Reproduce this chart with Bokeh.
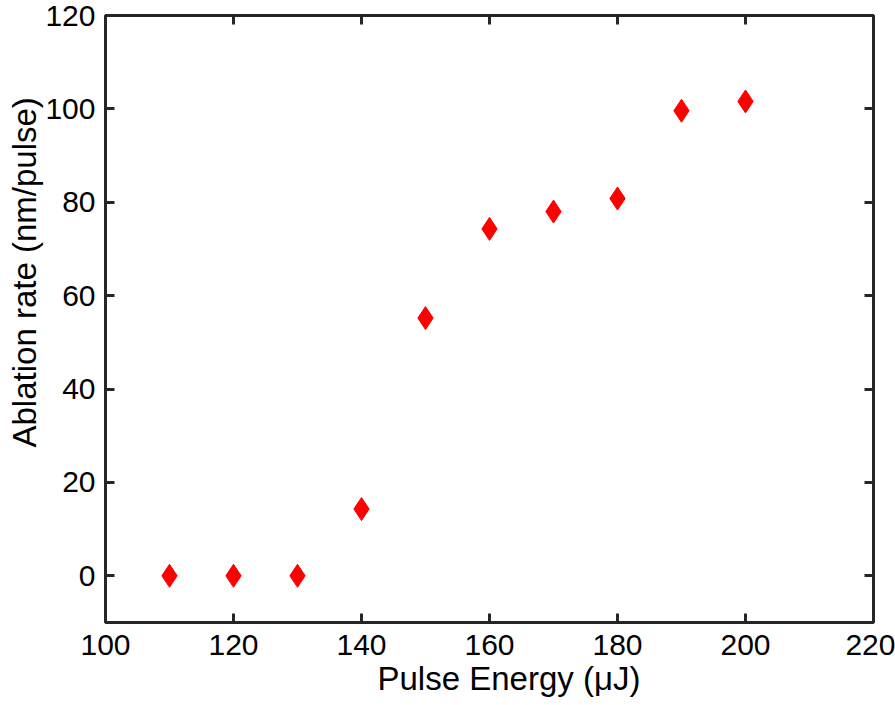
from bokeh.plotting import figure
from bokeh.models import LinearAxis, Range1d, FixedTicker, Title
from bokeh.embed import file_html
from bokeh.resources import INLINE

energy = [110, 120, 130, 140, 150, 160, 170, 180, 190, 200]
rate = [0, 0, 0, 14.3, 55.2, 74.3, 78.0, 80.8, 99.6, 101.6]
x_ticks = [100, 120, 140, 160, 180, 200, 220]
y_ticks = [0, 20, 40, 60, 80, 100, 120]
x_title = "Pulse Energy (μJ)"
y_title = "Ablation rate (nm/pulse)"

FONT = "Liberation Sans"
TFS = "30px"
LFS = "33px"
AX = "#262626"

p = figure(width=895, height=705, output_backend="svg", toolbar_location=None,
           x_range=Range1d(100, 220), y_range=Range1d(-10, 120),
           x_axis_location=None, y_axis_location=None,
           min_border_left=105, min_border_right=22, min_border_top=15, min_border_bottom=83)
p.grid.visible = False
p.outline_line_color = AX
p.outline_line_width = 3
p.background_fill_color = "white"
p.border_fill_color = "white"

def make_axis(loc, labels=True):
    ticks = x_ticks if loc in ("below", "above") else y_ticks
    ax = LinearAxis()
    ax.ticker = FixedTicker(ticks=ticks)
    ax.axis_line_color = None
    ax.major_tick_in = 9
    ax.major_tick_out = 0
    ax.major_tick_line_color = AX
    ax.major_tick_line_width = 3
    ax.minor_tick_line_color = None
    if labels:
        ax.major_label_text_font = FONT
        ax.major_label_text_font_size = TFS
        ax.major_label_text_color = "black"
    else:
        ax.major_label_overrides = {t: "" for t in ticks}
        ax.major_label_text_font_size = "1px"
        ax.major_label_standoff = 0
    return ax

bx = make_axis("below", True)
bx.major_label_standoff = 12
p.add_layout(bx, "below")
ly = make_axis("left", True)
ly.major_label_standoff = 10
p.add_layout(ly, "left")
p.add_layout(make_axis("above", False), "above")
p.add_layout(make_axis("right", False), "right")

def side_title(text, offset):
    return Title(text=text, align="left", offset=offset, standoff=0,
                 text_font=FONT, text_font_size=LFS, text_font_style="normal",
                 text_color="black")

p.add_layout(side_title(x_title, 272), "below")
p.add_layout(side_title(y_title, 175), "left")

p.scatter(energy, rate, marker="diamond", size=23, fill_color="#ff0000",
          line_color="#ff0000", line_width=1)

open("out.html", "w").write(file_html(p, INLINE))
